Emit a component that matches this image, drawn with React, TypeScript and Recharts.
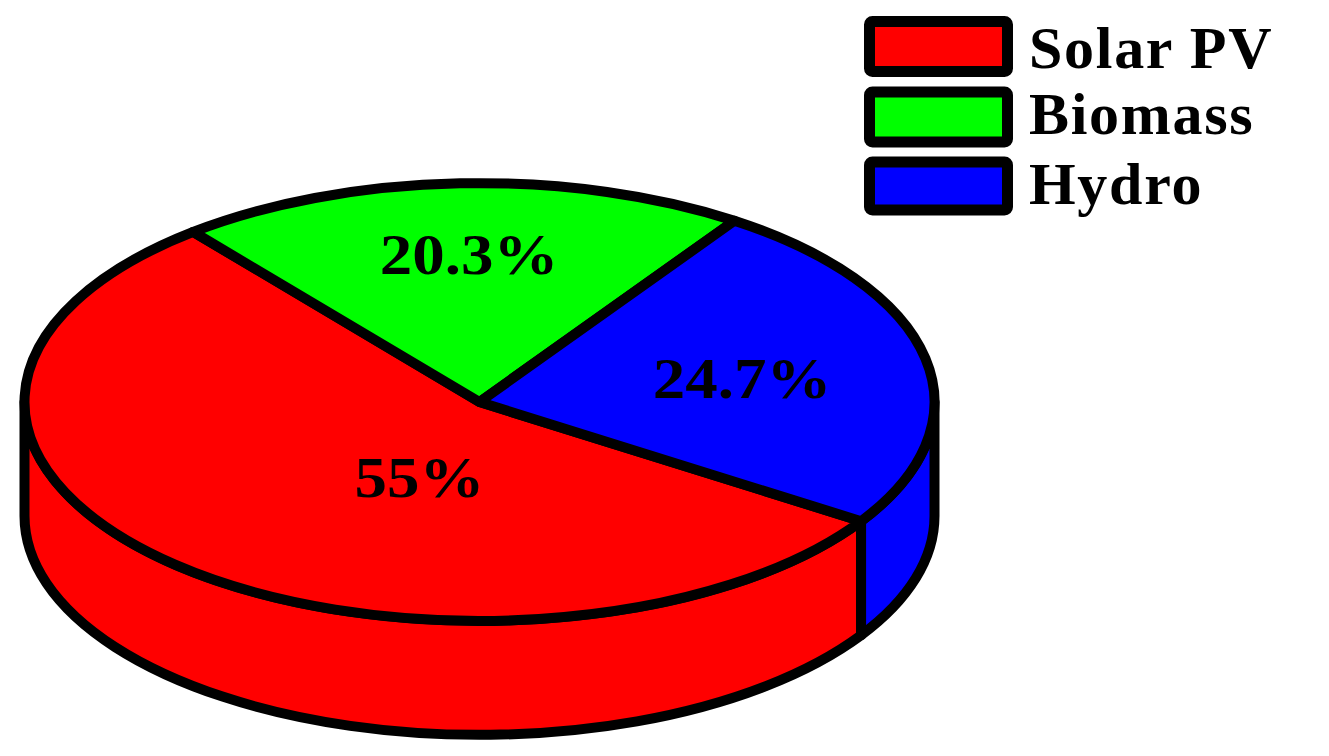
import React from "react";
import { PieChart, Pie, Cell, Legend } from "recharts";

const categories = ["Solar PV", "Biomass", "Hydro"];
const shares = [55, 20.3, 24.7];
const shareLabels = ["55%", "20.3%", "24.7%"];
const colors = ["#ff0000", "#00ff00", "#0000ff"];

const chartData = categories.map((name, i) => ({ name, value: shares[i], label: shareLabels[i] }));

const WIDTH = 1329;
const HEIGHT = 756;
const CX = 479.5;
const CY = 402;
const RX = 455;
const SQUASH = 0.481;
const DEPTH = 114;
const STROKE = 10;
const SERIF = "'Liberation Serif', 'Times New Roman', serif";

// where each percentage sits on the disc, as fractions of the radii (centre x, baseline y)
const labelSpots: Record<string, [number, number]> = {
  "Solar PV": [-0.132, 0.436],
  Biomass: [-0.023, -0.583],
  Hydro: [0.577, -0.018],
};

// legend row layout, relative to the legend box
const swatchTops = [6.5, 77, 147];
const swatchHeights = [50, 50, 48];
const legendBaselines = [53, 119, 189];

function DiscSlice(props: any) {
  const { cx, cy, outerRadius: r, startAngle, endAngle, fill } = props;
  const ry = r * SQUASH;
  const at = (deg: number, dy = 0): [number, number] => {
    const a = (deg * Math.PI) / 180;
    return [cx + r * Math.cos(a), cy - ry * Math.sin(a) + dy];
  };
  const hi0 = Math.max(startAngle, endAngle);
  const lo0 = Math.min(startAngle, endAngle);
  const [sx, sy] = at(hi0);
  const [ex, ey] = at(lo0);
  const large = hi0 - lo0 > 180 ? 1 : 0;
  const top = `M${cx},${cy} L${sx},${sy} A${r},${ry} 0 ${large} 1 ${ex},${ey} Z`;

  const sides: string[] = [];
  for (let k = -2; k <= 1; k++) {
    const lo = Math.max(lo0, -180 + 360 * k);
    const hi = Math.min(hi0, 360 * k);
    if (lo < hi) {
      const [ax, ay] = at(hi);
      const [bx, by] = at(lo);
      const [cxx, cyy] = at(lo, DEPTH);
      const [dx, dy] = at(hi, DEPTH);
      const big = hi - lo > 180 ? 1 : 0;
      sides.push(
        `M${ax},${ay} A${r},${ry} 0 ${big} 1 ${bx},${by} L${cxx},${cyy} A${r},${ry} 0 ${big} 0 ${dx},${dy} Z`
      );
    }
  }
  return (
    <g>
      {sides.map((d, i) => (
        <path key={i} d={d} fill={fill} stroke="#000" strokeWidth={STROKE} strokeLinejoin="round" />
      ))}
      <path d={top} fill={fill} stroke="#000" strokeWidth={STROKE} strokeLinejoin="round" />
    </g>
  );
}

function SliceLabel(props: any) {
  const { cx, cy, outerRadius: r, name, label } = props;
  const spot = labelSpots[name];
  if (!spot) return null;
  const x = cx + spot[0] * r;
  const y = cy + spot[1] * r * SQUASH;
  return (
    <text
      transform={`translate(${x},${y}) scale(1.12,1)`}
      textAnchor="middle"
      fontFamily={SERIF}
      fontWeight="bold"
      fontSize={58}
      fill="#000"
    >
      {label}
    </text>
  );
}

function ChartLegend(props: any) {
  const items = props.payload ?? [];
  return (
    <svg width={465} height={230} style={{ display: "block" }}>
      {items.map((it: any, i: number) => (
        <g key={it.value}>
          <rect
            x={5.5}
            y={swatchTops[i]}
            width={138}
            height={swatchHeights[i]}
            rx={3}
            fill={it.color}
            stroke="#000"
            strokeWidth={11}
          />
          <text
            x={165}
            y={legendBaselines[i]}
            fontFamily={SERIF}
            fontWeight="bold"
            fontSize={60}
            letterSpacing={1.7}
            fill="#000"
          >
            {it.value}
          </text>
        </g>
      ))}
    </svg>
  );
}

export default function App() {
  return (
    <div style={{ position: "absolute", left: 0, top: 0, width: WIDTH, height: HEIGHT, background: "#fff" }}>
      <PieChart width={WIDTH} height={HEIGHT} margin={{ top: 0, right: 0, bottom: 0, left: 0 }}>
        <Pie
          data={chartData}
          dataKey="value"
          nameKey="name"
          cx={CX}
          cy={CY}
          outerRadius={RX}
          startAngle={-33}
          endAngle={-393}
          stroke="#000"
          isAnimationActive={false}
          shape={DiscSlice}
          label={SliceLabel}
          labelLine={false}
        >
          {chartData.map((d, i) => (
            <Cell key={d.name} fill={colors[i]} />
          ))}
        </Pie>
        <Legend
          content={<ChartLegend />}
          itemSorter={null}
          wrapperStyle={{ position: "absolute", left: 864, top: 15, width: 465, height: 230 }}
        />
      </PieChart>
    </div>
  );
}
